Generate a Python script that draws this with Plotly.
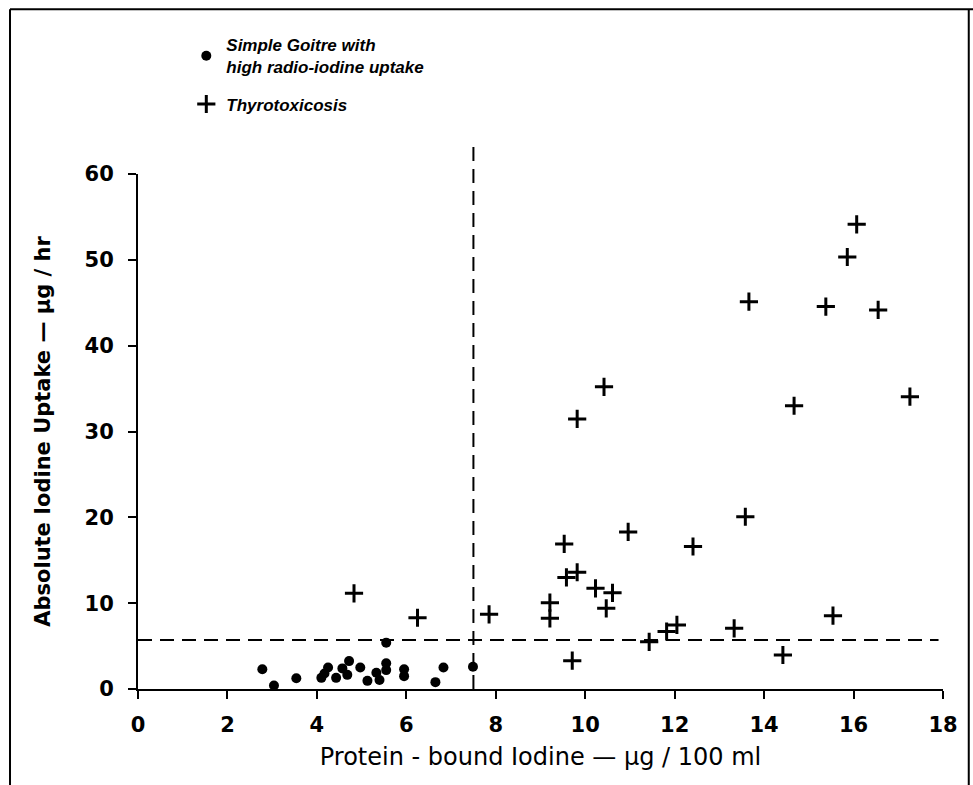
import plotly.graph_objects as go

# Simple goitre with high radio-iodine uptake (dots)
goitre_pbi = [2.78, 3.04, 3.54, 4.10, 4.17, 4.25, 4.43, 4.57, 4.72, 4.68, 4.97,
              5.13, 5.33, 5.40, 5.55, 5.55, 5.55, 5.95, 5.95, 6.65, 6.83, 7.49]
goitre_uptake = [2.3, 0.4, 1.25, 1.3, 1.8, 2.5, 1.3, 2.4, 3.25, 1.65, 2.5,
                 0.95, 1.9, 1.05, 5.4, 3.0, 2.2, 2.3, 1.5, 0.8, 2.5, 2.6]

# Thyrotoxicosis (crosses)
thyro_pbi = [4.83, 6.25, 7.85, 9.21, 9.21, 9.53, 9.58, 9.82, 9.71, 10.23, 10.61,
             10.47, 10.96, 12.41, 11.43, 11.82, 12.05, 14.67, 17.26, 13.58, 15.54,
             13.33, 14.42, 10.42, 9.82, 16.07, 15.86, 13.66, 15.38, 16.55]
thyro_uptake = [11.15, 8.3, 8.7, 10.06, 8.23, 16.9, 13.0, 13.6, 3.3, 11.73, 11.2,
                9.4, 18.3, 16.6, 5.5, 6.7, 7.46, 33.0, 34.06, 20.07, 8.54,
                7.07, 3.96, 35.2, 31.46, 54.14, 50.33, 45.13, 44.55, 44.16]

x_ticks = [0, 2, 4, 6, 8, 10, 12, 14, 16, 18]
y_ticks = [0, 10, 20, 30, 40, 50, 60]

pbi_limit = 7.5        # vertical dashed line
uptake_limit = 5.7     # horizontal dashed line
pbi_line_end = 17.9
vline_top = 63.6

fig = go.Figure()
fig.add_trace(go.Scatter(
    x=goitre_pbi, y=goitre_uptake, mode="markers",
    name="Simple Goitre with<br>high radio-iodine uptake",
    legendgroup="goitre",
    marker=dict(symbol="circle", size=10, color="black"),
    cliponaxis=False,
))
fig.add_trace(go.Scatter(
    x=thyro_pbi, y=thyro_uptake, mode="markers",
    name="Thyrotoxicosis",
    legendgroup="thyro",
    marker=dict(symbol="cross-thin", size=13, color="black",
                line=dict(width=3, color="black")),
    cliponaxis=False,
))

dash = "14px,8px"
fig.add_shape(type="line", xref="x", yref="y", x0=0, x1=pbi_line_end,
              y0=uptake_limit, y1=uptake_limit,
              line=dict(color="black", width=2, dash=dash))
fig.add_shape(type="line", xref="x", yref="paper", x0=pbi_limit, x1=pbi_limit,
              y0=0, y1=vline_top / 60,
              line=dict(color="black", width=2, dash=dash))

# outer frame of the figure
for (x0, y0, x1, y1) in [(-0.159, 1.320, 1.10, 1.320),
                         (-0.159, 1.320, -0.159, -0.20),
                         (1.032, 1.320, 1.032, -0.20)]:
    fig.add_shape(type="line", xref="paper", yref="paper",
                  x0=x0, y0=y0, x1=x1, y1=y1,
                  line=dict(color="black", width=2))

tick_font = dict(family="DejaVu Sans", size=21, color="black", weight="bold")

fig.update_xaxes(
    range=[0, 18], tickmode="array", tickvals=x_ticks,
    showline=True, linecolor="black", linewidth=2,
    ticks="outside", ticklen=8, tickwidth=2, tickcolor="black",
    tickfont=tick_font, ticklabelstandoff=8,
    showgrid=False, zeroline=False,
    title=dict(text="Protein - bound Iodine — μg / 100 ml",
               font=dict(family="DejaVu Sans", size=24, color="black"),
               standoff=12),
)
fig.update_yaxes(
    range=[0, 60], tickmode="array", tickvals=y_ticks,
    showline=True, linecolor="black", linewidth=2,
    ticks="outside", ticklen=8, tickwidth=2, tickcolor="black",
    tickfont=tick_font, ticklabelstandoff=10,
    showgrid=False, zeroline=False,
    title=dict(text="Absolute Iodine Uptake — μg / hr",
               font=dict(family="DejaVu Sans", size=21, color="black", weight="bold"),
               standoff=28),
)

fig.update_layout(
    width=973, height=785,
    margin=dict(l=138, r=30, t=174, b=96),
    paper_bgcolor="white", plot_bgcolor="white",
    showlegend=True,
    legend=dict(
        x=0.06, y=1.285, xanchor="left", yanchor="top",
        font=dict(family="Liberation Sans", size=17, color="black",
                  style="italic", weight="bold"),
        bgcolor="rgba(0,0,0,0)", itemwidth=30, tracegroupgap=12,
    ),
)

fig.write_html("out.html")
